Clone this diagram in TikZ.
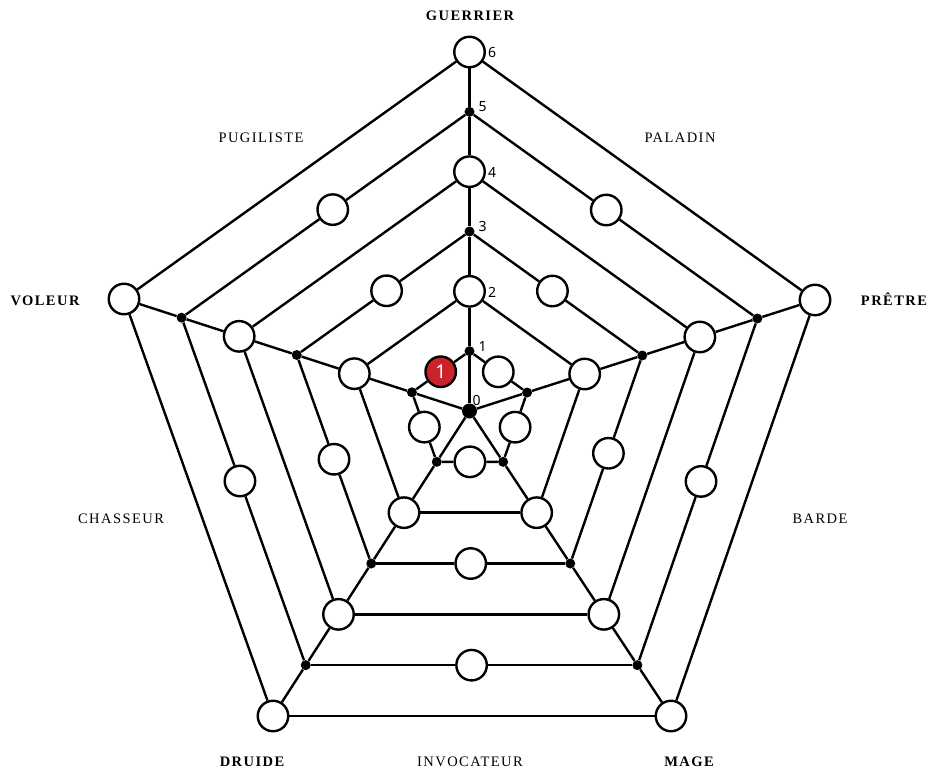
\documentclass[tikz,border=0pt]{standalone}
\usepackage{fontspec}
\setmainfont{Liberation Serif}
\newfontfamily\numfont{Noto Sans}
\newfontfamily\capfont[LetterSpace=10]{Liberation Serif}
\usetikzlibrary{calc}
\definecolor{redn}{HTML}{CC2229}
\begin{document}
\begin{tikzpicture}[x=1pt,y=-1pt,
  bigc/.style={circle,draw,line width=2.4pt,fill=white,minimum size=30.5pt,inner sep=0pt},
  dotc/.style={circle,fill=black,minimum size=10pt,inner sep=0pt},
  cdot/.style={circle,fill=black,minimum size=15pt,inner sep=0pt},
  redc/.style={bigc,fill=redn,text=white,font=\numfont\fontsize{19}{19}\selectfont},
  ln/.style={line width=2.4pt},
  numlab/.style={font=\numfont\fontsize{14}{14}\selectfont,inner sep=0pt},
  caplab/.style={font=\capfont\fontsize{14.5}{14.5}\selectfont,inner sep=0pt,text height=9.6pt,text depth=0pt},
  boldlab/.style={caplab,font=\capfont\bfseries\fontsize{14.5}{14.5}\selectfont}]
\useasboundingbox (0,0) rectangle (932,771);
\node[cdot] (v-0) at (469.5,411) {};
\foreach \k in {1,...,6} {
  \foreach \i/\ddx/\ddy in {0/0/-359,1/345.5/-111,2/201.5/305,3/-196.5/305,4/-345.5/-112} {
    \pgfmathsetmacro\px{469.5+\ddx*\k/6}
    \pgfmathsetmacro\py{411+\ddy*\k/6}
    \ifodd\k
      \node[dotc] (v-\k-\i) at (\px,\py) {};
    \else
      \node[bigc] (v-\k-\i) at (\px,\py) {};
    \fi
  }
}
% midpoint circles on the odd levels (position along each edge)
\foreach \k/\i/\p in {1/0/0.5,1/1/0.5,1/2/0.5,1/3/0.5,
                      3/0/0.48,3/1/0.47,3/2/0.5,3/3/0.5,3/4/0.52,
                      5/0/0.475,5/1/0.47,5/2/0.5,5/3/0.53,5/4/0.525} {
  \pgfmathtruncatemacro\j{mod(\i+1,5)}
  \node[bigc] (m-\k-\i) at ($(v-\k-\i)!\p!(v-\k-\j)$) {};
}
\node[redc] (m-1-4) at ($(v-1-4)!0.5!(v-1-0)$) {1};
\foreach \k in {1,...,6} {
  \pgfmathtruncatemacro\km{\k-1}
  \foreach \i in {0,...,4} {
    \pgfmathtruncatemacro\j{mod(\i+1,5)}
    \ifnum\km=0
      \draw[ln] (v-0) -- (v-\k-\i);
    \else
      \draw[ln] (v-\km-\i) -- (v-\k-\i);
    \fi
    \ifodd\k
      \draw[ln] (v-\k-\i) -- (m-\k-\i) -- (v-\k-\j);
    \else
      \draw[ln] (v-\k-\i) -- (v-\k-\j);
    \fi
  }
}
% scale numbers
\node[numlab] (n0) at ([shift={(7,-11)}]v-0) {0};
\foreach \k in {1,3,5} {
  \node[numlab] (n\k) at ([shift={(13,-5)}]v-\k-0) {\k};
}
\foreach \k in {2,4,6} {
  \node[numlab] (n\k) at ([shift={(22.5,1)}]v-\k-0) {\k};
}
% class labels
\node[boldlab] (guerrier) at (470,16) {GUERRIER};
\node[caplab] (paladin) at (680,138) {PALADIN};
\node[boldlab] (pretre) at (894,301) {PRÊTRE};
\node[caplab] (barde) at (820,519) {BARDE};
\node[boldlab] (mage) at (689,762) {MAGE};
\node[caplab] (invocateur) at (470,762) {INVOCATEUR};
\node[boldlab] (druide) at (252,762) {DRUIDE};
\node[caplab] (chasseur) at (121,519) {CHASSEUR};
\node[boldlab] (voleur) at (45,301) {VOLEUR};
\node[caplab] (pugiliste) at (261,138) {PUGILISTE};
\end{tikzpicture}
\end{document}
